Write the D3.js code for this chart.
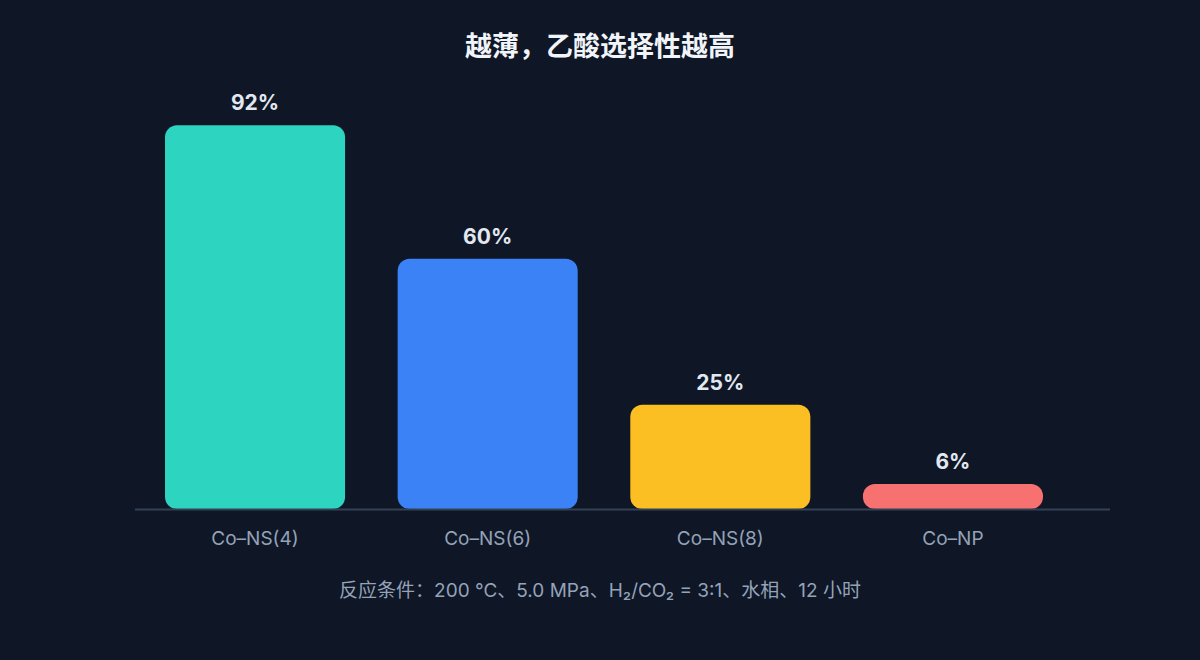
<!DOCTYPE html>
<html>
<head>
<meta charset="utf-8">
<script src="https://cdn.jsdelivr.net/npm/d3@7"></script>
<style>
  html, body { margin: 0; padding: 0; background: #0f1626; }
  svg { display: block; font-family: "Inter", "Noto Sans CJK SC", sans-serif; }
</style>
</head>
<body>
<div id="chart"></div>
<script>
let width = 1200,
  height = 660;
let categories = ["Co–NS(4)", "Co–NS(6)", "Co–NS(8)", "Co–NP"];
let values = [92, 60, 25, 6];
let colors = ["#2dd4bf", "#3b82f6", "#fbbf24", "#f87171"];
let title = "越薄，乙酸选择性越高";
let note = "反应条件：200 ℃、5.0 MPa、H₂/CO₂ = 3:1、水相、12 小时";

let svg = d3
  .select("#chart")
  .append("svg")
  .attr("width", width)
  .attr("height", height);

svg.append("rect")
  .attr("width", width)
  .attr("height", height)
  .attr("fill", "#0f1626");

let baseY = 509;

let x = d3.scaleBand()
  .domain(categories)
  .range([135, 1073])
  .paddingInner(0.226)
  .paddingOuter(0.129);

let y = d3.scaleLinear()
  .domain([0, 100])
  .range([baseY, 92]);

// bars, rounded on every corner
svg.selectAll("rect.bar")
  .data(values)
  .enter()
  .append("rect")
  .attr("class", "bar")
  .attr("x", (d, i) => x(categories[i]))
  .attr("y", d => y(d))
  .attr("width", x.bandwidth())
  .attr("height", d => baseY - y(d))
  .attr("rx", d => Math.min(12, (baseY - y(d)) / 2))
  .attr("fill", (d, i) => colors[i]);

// baseline
svg.append("line")
  .attr("x1", 135)
  .attr("x2", 1110)
  .attr("y1", baseY + 0.5)
  .attr("y2", baseY + 0.5)
  .attr("stroke", "#334155")
  .attr("stroke-width", 2);

// value labels
svg.selectAll("text.val")
  .data(values)
  .enter()
  .append("text")
  .attr("class", "val")
  .attr("x", (d, i) => x(categories[i]) + x.bandwidth() / 2)
  .attr("y", d => y(d) - 15)
  .attr("text-anchor", "middle")
  .attr("fill", "#e2e8f0")
  .attr("font-size", 21)
  .attr("font-weight", 700)
  .text(d => d + "%");

// category labels
svg.selectAll("text.cat")
  .data(categories)
  .enter()
  .append("text")
  .attr("class", "cat")
  .attr("x", d => x(d) + x.bandwidth() / 2)
  .attr("y", 545)
  .attr("text-anchor", "middle")
  .attr("fill", "#94a3b8")
  .attr("font-size", 19)
  .text(d => d);

svg.append("text")
  .attr("x", width / 2)
  .attr("y", 56)
  .attr("text-anchor", "middle")
  .attr("fill", "#f1f5f9")
  .attr("font-size", 27)
  .attr("font-weight", 700)
  .text(title);

svg.append("text")
  .attr("x", width / 2)
  .attr("y", 597)
  .attr("text-anchor", "middle")
  .attr("fill", "#94a3b8")
  .attr("font-size", 19)
  .text(note);
</script>
</body>
</html>
